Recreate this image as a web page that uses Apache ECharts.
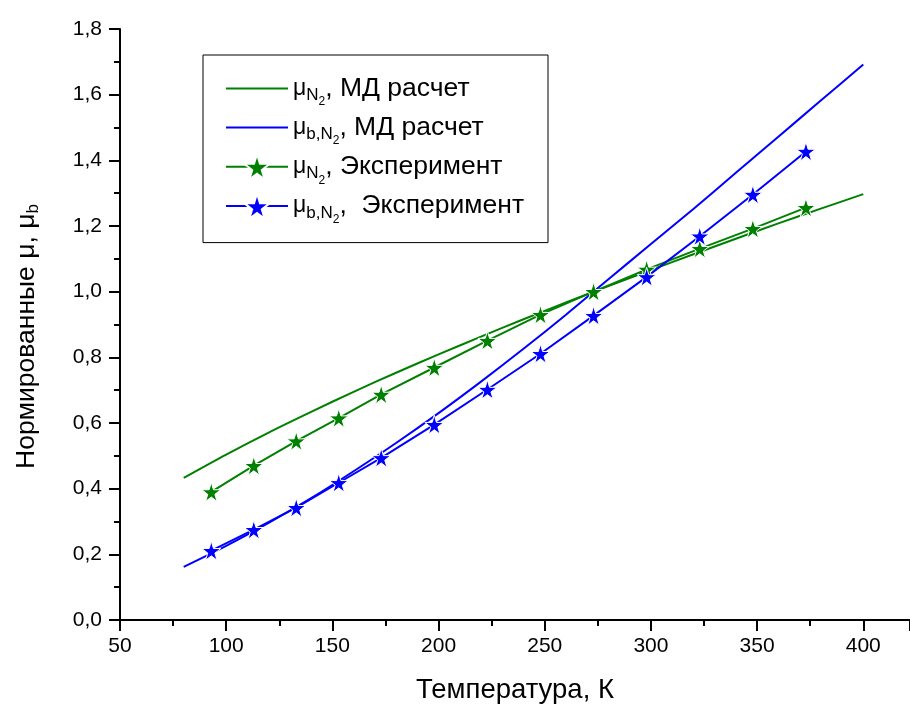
<!DOCTYPE html>
<html>
<head>
<meta charset="utf-8">
<script src="https://cdn.jsdelivr.net/npm/echarts@6/dist/echarts.min.js"></script>
<style>
  html, body { margin: 0; padding: 0; background: #fff; }
  #chart { width: 910px; height: 709px; }
</style>
</head>
<body>
<div id="chart"></div>
<script>
// MD calculation curves (temperature, K)
const mdTemp = [80, 100, 120, 140, 160, 180, 200, 220, 240, 260, 280, 300, 320, 340, 360, 380, 400];
const mdMuN2 = [0.433, 0.504, 0.571, 0.634, 0.695, 0.753, 0.809, 0.863, 0.916, 0.967, 1.017, 1.066, 1.114, 1.161, 1.208, 1.253, 1.297];
const mdMuB = [0.162, 0.226, 0.296, 0.371, 0.453, 0.539, 0.630, 0.726, 0.826, 0.930, 1.038, 1.145, 1.252, 1.362, 1.472, 1.582, 1.692];

// experiment points
const expTemp = [93, 113, 133, 153, 173, 198, 223, 248, 273, 298, 323, 348, 373];
const expMuN2 = [0.39, 0.47, 0.545, 0.615, 0.687, 0.769, 0.851, 0.93, 1.0, 1.068, 1.131, 1.192, 1.256];
const expMuB = [0.211, 0.275, 0.342, 0.418, 0.494, 0.595, 0.702, 0.811, 0.927, 1.045, 1.169, 1.296, 1.427];

const seriesNames = ['muN2_md', 'muB_md', 'muN2_exp', 'muB_exp'];
const legendLabels = {
  muN2_md: '{mu|μ}{s|N}{ss|2}{t|, МД расчет}',
  muB_md: '{mu|μ}{s|b,N}{ss|2}{t|, МД расчет}',
  muN2_exp: '{mu|μ}{s|N}{ss|2}{t|, Эксперимент}',
  muB_exp: '{mu|μ}{s|b,N}{ss|2}{t|,  Эксперимент}'
};

const GREEN = '#008000';
const BLUE = '#0000ff';
const STAR = 'path://M50,0 L61,35 L98,35 L68,57 L79,91 L50,70 L21,91 L32,57 L2,35 L39,35 Z';
const FONT = '"Liberation Sans", Arial, sans-serif';

function pairs(xs, ys) {
  return xs.map((x, i) => [x, ys[i]]);
}

const chart = echarts.init(document.getElementById('chart'));

const axisLine = { lineStyle: { color: '#000', width: 2 } };

// md curves have no marker in the legend, only the line
const legendData = seriesNames.map((n) =>
  n.endsWith('_md') ? { name: n, itemStyle: { opacity: 0, borderWidth: 0 } } : { name: n }
);

const option = {
  backgroundColor: '#fff',
  animation: false,
  textStyle: { fontFamily: FONT },
  grid: {
    left: 120,
    right: 0,
    top: 29,
    bottom: 89,
    outerBoundsMode: 'none'
  },
  legend: {
    orient: 'vertical',
    left: 203,
    top: 55,
    data: legendData,
    itemWidth: 62,
    itemHeight: 32,
    itemGap: 6,
    padding: [20, 24, 17, 22],
    borderColor: '#000',
    borderWidth: 1,
    formatter: (name) => legendLabels[name],
    textStyle: {
      color: '#000',
      fontFamily: FONT,
      fontSize: 26.5,
      rich: {
        t: { fontSize: 26.5, fontFamily: FONT, color: '#000' },
        mu: { fontSize: 23, fontFamily: FONT, color: '#000' },
        s: { fontSize: 17, fontFamily: FONT, color: '#000', padding: [14, 0, 0, 0] },
        ss: { fontSize: 12, fontFamily: FONT, color: '#000', padding: [27, 0, 0, 0] }
      }
    }
  },
  xAxis: {
    type: 'value',
    min: 50,
    max: 422,
    interval: 50,
    name: 'Температура, К',
    nameLocation: 'middle',
    nameGap: 56,
    nameTextStyle: { color: '#000', fontSize: 27.5, fontFamily: FONT },
    axisLine: axisLine,
    axisTick: { inside: false, length: 11, lineStyle: { color: '#000', width: 2 } },
    minorTick: { show: true, splitNumber: 2, length: 6, lineStyle: { color: '#000', width: 2 } },
    axisLabel: { color: '#000', fontSize: 21, fontFamily: FONT, margin: 16, showMaxLabel: false },
    splitLine: { show: false }
  },
  yAxis: {
    type: 'value',
    min: 0,
    max: 1.8,
    interval: 0.2,
    name: 'Нормированные μ, μ{sub|b}',
    nameLocation: 'middle',
    nameGap: 78,
    nameTextStyle: {
      color: '#000',
      fontSize: 26.5,
      fontFamily: FONT,
      padding: [0, 24, 0, 0],
      rich: {
        sub: { fontSize: 17, fontFamily: FONT, color: '#000', padding: [14, 0, 0, 0] }
      }
    },
    axisLine: axisLine,
    axisTick: { inside: false, length: 11, lineStyle: { color: '#000', width: 2 } },
    minorTick: { show: true, splitNumber: 2, length: 6, lineStyle: { color: '#000', width: 2 } },
    axisLabel: {
      color: '#000',
      fontSize: 21,
      fontFamily: FONT,
      margin: 18,
      formatter: (v) => v.toFixed(1).replace('.', ',')
    },
    splitLine: { show: false }
  },
  series: [
    {
      name: 'muN2_md',
      type: 'line',
      data: pairs(mdTemp, mdMuN2),
      smooth: 0.3,
      symbol: 'circle',
      showSymbol: false,
      lineStyle: { color: GREEN, width: 2 },
      itemStyle: { color: GREEN }
    },
    {
      name: 'muB_md',
      type: 'line',
      data: pairs(mdTemp, mdMuB),
      smooth: 0.3,
      symbol: 'circle',
      showSymbol: false,
      lineStyle: { color: BLUE, width: 2 },
      itemStyle: { color: BLUE }
    },
    {
      name: 'muN2_exp',
      type: 'line',
      data: pairs(expTemp, expMuN2),
      symbol: STAR,
      symbolSize: 19,
      showAllSymbol: true,
      lineStyle: { color: GREEN, width: 2 },
      itemStyle: { color: GREEN, borderColor: '#fff', borderWidth: 1 }
    },
    {
      name: 'muB_exp',
      type: 'line',
      data: pairs(expTemp, expMuB),
      symbol: STAR,
      symbolSize: 19,
      showAllSymbol: true,
      lineStyle: { color: BLUE, width: 2 },
      itemStyle: { color: BLUE, borderColor: '#fff', borderWidth: 1 }
    }
  ]
};

chart.setOption(option);
</script>
</body>
</html>
